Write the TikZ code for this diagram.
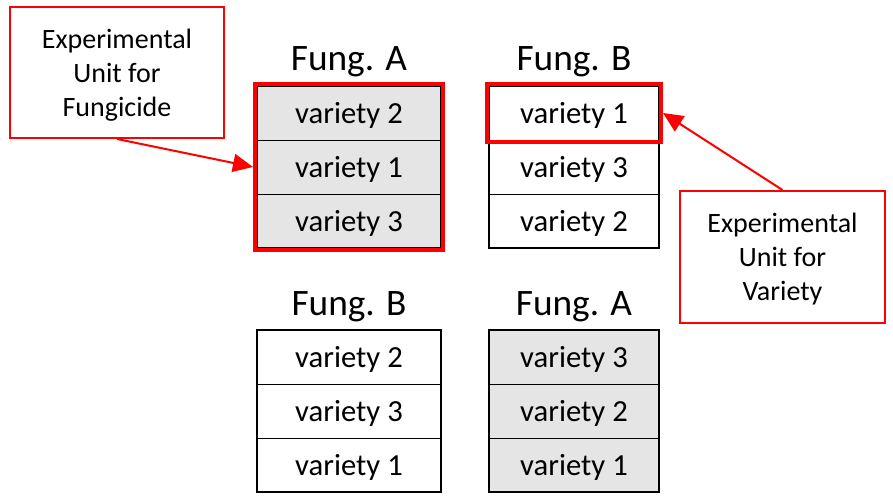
\documentclass[tikz,border=0pt]{standalone}
\usepackage{fontspec}
\setmainfont{Carlito}
\usetikzlibrary{positioning,fit,arrows.meta}

\tikzset{
  cellL/.style={draw,line width=0.75pt,minimum width=138pt,minimum height=40.5pt,inner sep=0pt,outer sep=0pt,text depth=0pt,font=\fontsize{23}{27}\selectfont},
  cellR/.style={cellL,minimum width=127.5pt},
  grey/.style={fill=black!10},
  head/.style={anchor=base,font=\fontsize{28}{33}\selectfont},
  frame/.style={draw=red,line width=3pt,inner sep=1.5pt},
  callout/.style={draw=red,line width=1.5pt,align=center,text depth=0pt,font=\fontsize{21}{25.5}\selectfont},
  pointer/.style={red,line width=1.5pt,-{Triangle[length=15pt,width=13.5pt]}}
}

\begin{document}
\begin{tikzpicture}[x=0.75pt,y=-0.75pt]
\useasboundingbox (0,0) rectangle (893,500);
% top left plot: Fung. A
\node[head] (hA1) at (349,70) {Fung. A};
\node[cellL,grey] (a1) at (349,113) {variety 2};
\node[cellL,grey,below=0pt of a1] (a2) {variety 1};
\node[cellL,grey,below=0pt of a2] (a3) {variety 3};
\draw[line width=1.5pt] (a1.north west) rectangle (a3.south east);
% top right plot: Fung. B
\node[head] (hB1) at (574,70) {Fung. B};
\node[cellR] (b1) at (574,113) {variety 1};
\node[cellR,below=0pt of b1] (b2) {variety 3};
\node[cellR,below=0pt of b2] (b3) {variety 2};
\draw[line width=1.5pt] (b1.north west) rectangle (b3.south east);
% bottom left plot: Fung. B
\node[head] (hB2) at (349,315) {Fung. B};
\node[cellL] (c1) at (349,357) {variety 2};
\node[cellL,below=0pt of c1] (c2) {variety 3};
\node[cellL,below=0pt of c2] (c3) {variety 1};
\draw[line width=1.5pt] (c1.north west) rectangle (c3.south east);
% bottom right plot: Fung. A
\node[head] (hA2) at (574,315) {Fung. A};
\node[cellR,grey] (d1) at (574,357) {variety 3};
\node[cellR,grey,below=0pt of d1] (d2) {variety 2};
\node[cellR,grey,below=0pt of d2] (d3) {variety 1};
\draw[line width=1.5pt] (d1.north west) rectangle (d3.south east);
% experimental units
\node[frame,fit=(a1)(a3)] (euA) {};
\node[frame,fit=(b1)] (euB) {};
\node[callout,minimum width=160.5pt,minimum height=98.25pt] (txtF) at (117,72.5) {Experimental\\Unit for\\Fungicide};
\node[callout,minimum width=153.75pt,minimum height=99pt] (txtV) at (782.5,257) {Experimental\\Unit for\\Variety};
\draw[pointer] (txtF.south) -- (euA.west);
\draw[pointer] (txtV.north) -- (euB.east);
\end{tikzpicture}
\end{document}
